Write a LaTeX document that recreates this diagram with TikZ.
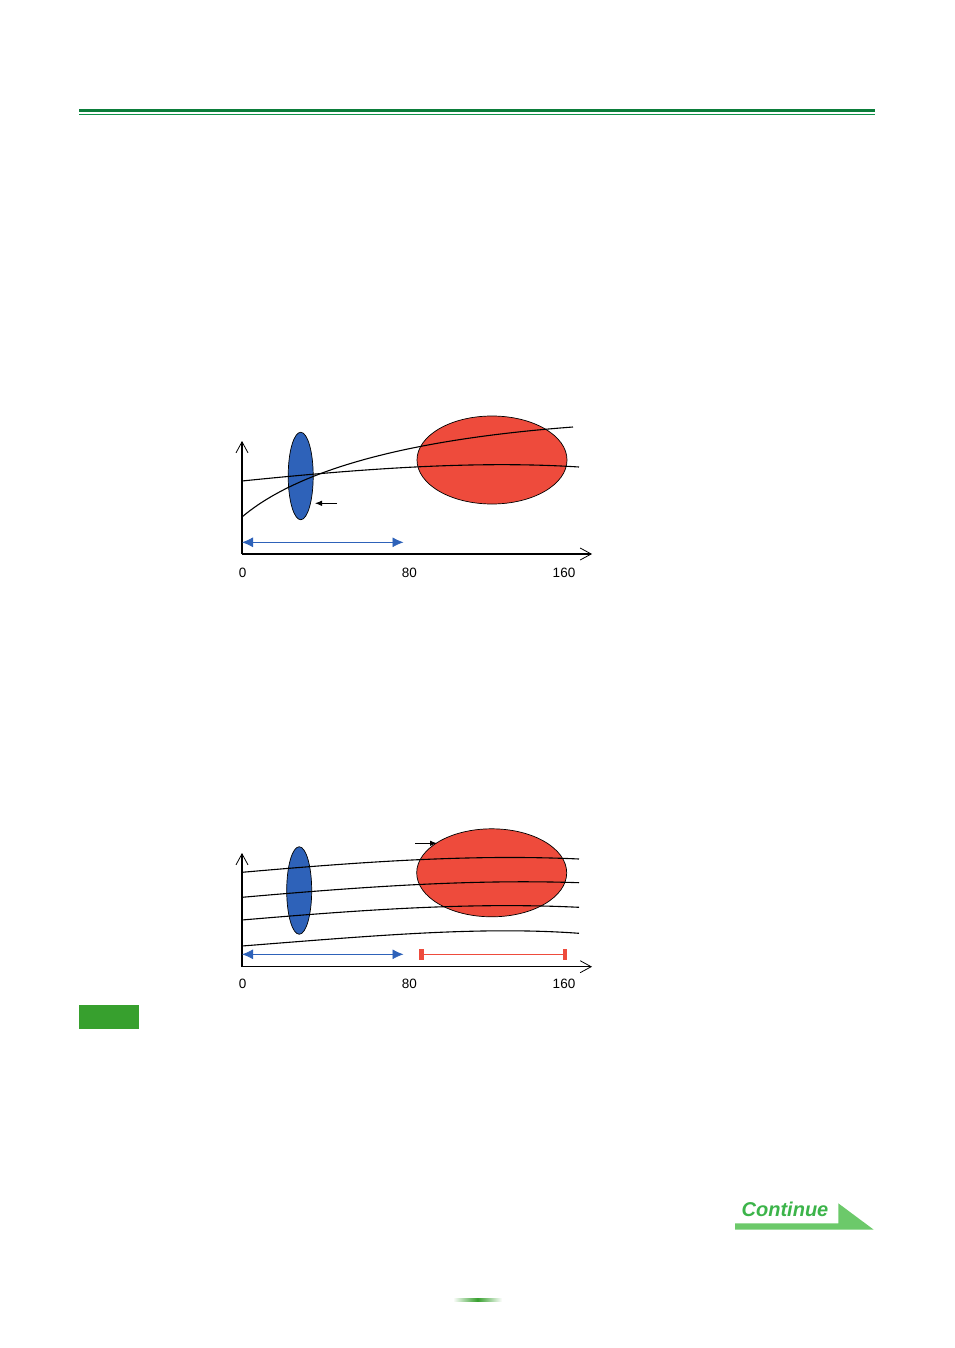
\documentclass[tikz,border=0pt]{standalone}
\usepackage{fontspec}
\setmainfont{Liberation Sans}
\usetikzlibrary{arrows.meta,shapes.geometric,positioning}
\definecolor{rulegreen}{HTML}{0B7D3A}
\definecolor{thingreen}{HTML}{109048}
\definecolor{tabgreen}{HTML}{37A02E}
\definecolor{contgreen}{HTML}{3CB44A}
\definecolor{flaggreen}{HTML}{6CC96A}
\definecolor{lensblue}{HTML}{2E62B9}
\definecolor{blobred}{HTML}{EE4B3C}
\tikzset{
  lens/.style={
      ellipse, draw, fill=lensblue, line width=0.7pt,
      minimum width=25, minimum height=87.5, inner sep=0,
  },
  blob/.style={
      ellipse, draw, fill=blobred, line width=0.7pt,
      minimum width=150, minimum height=88, inner sep=0,
  },
  axis/.style={
    draw, line width=1.2pt, -{Straight Barb[length=11pt,width=12pt,line width=0.8pt]},
  },
  curve/.style={
    draw, line width=1.1pt,
  },
  pointer/.style={
    draw, line width=0.8pt, -{Latex[length=7pt,width=5.5pt]},
  },
  bluespan/.style={
    draw=lensblue, line width=0.8pt,
    {Latex[length=11pt,width=10pt]}-{Latex[length=11pt,width=10pt]},
  },
  redspan/.style={
    draw=blobred, line width=0.8pt,
    {Rectangle[length=4pt,width=10pt]}-{Rectangle[length=4pt,width=10pt]},
  },
  tick/.style={font=\fontsize{13.5}{16}\selectfont},
}

\begin{document}
\begin{tikzpicture}[x=1pt,y=-1pt]
\useasboundingbox (0,0) rectangle (954,1348);

% header rule
\fill[rulegreen] (79,109) rectangle (875,112);
\fill[thingreen] (79,114) rectangle (875,115.2);

% first chart
\coordinate (o1) at (242,554);
\coordinate (ytop1) at (242,441);
\coordinate (xend1) at (592,554);
\node [lens] (lens1) at (300.7,476) {};
\node [blob] (blob1) at (492,460) {};
\draw [curve] (242,481) .. controls (350,470) and (470,460) .. (579,467);
\draw [curve] (242,517) .. controls (295,472) and (400,440) .. (573,427);
\draw [axis] (o1) -- (ytop1);
\draw [axis] (o1) -- (xend1);
\coordinate (p1a) at (337,503.3);
\coordinate (p1b) at (315,503.3);
\draw [pointer] (p1a) -- (p1b);
\coordinate (s1a) at (242,542.3);
\coordinate (s1b) at (403.5,542.3);
\draw [bluespan] (s1a) -- (s1b);
\node [tick] (zero1) at (242.7,572.5) {0};
\node [tick] (eighty1) at (409.3,572.5) {80};
\node [tick] (max1) at (564,572.5) {160};

% second chart
\coordinate (o2) at (242,966.7);
\coordinate (ytop2) at (242,853);
\coordinate (xend2) at (592,966.7);
\node [lens] (lens2) at (299.2,890.5) {};
\node [blob] (blob2) at (491.7,872.8) {};
\draw [curve] (242,872.3) .. controls (360,862) and (470,854) .. (579,859);
\draw [curve] (242,897.3) .. controls (360,887) and (470,879) .. (579,882.7);
\draw [curve] (242,920) .. controls (360,910) and (470,902) .. (579,907.3);
\draw [curve] (242,946) .. controls (370,936) and (480,926) .. (579,933.3);
\draw [axis] (o2) -- (ytop2);
\draw [axis] (o2) -- (xend2);
\coordinate (p2a) at (415,843.3);
\coordinate (p2b) at (437,843.3);
\draw [pointer] (p2a) -- (p2b);
\coordinate (s2a) at (242,954.3);
\coordinate (s2b) at (403.5,954.3);
\draw [bluespan] (s2a) -- (s2b);
\coordinate (r2a) at (419.3,954.3);
\coordinate (r2b) at (566.7,954.3);
\draw [redspan] (r2a) -- (r2b);
\node [tick] (zero2) at (242.7,983.5) {0};
\node [tick] (eighty2) at (409.3,983.5) {80};
\node [tick] (max2) at (564,983.5) {160};

% green tab
\fill[tabgreen] (79,1005) rectangle (139,1029);

% continue flag
\fill[flaggreen] (735,1223.3) -- (838.3,1223.3) -- (838.3,1203.3)
  -- (873.5,1229.5) -- (735,1229.5) -- cycle;
\node [text=contgreen, font=\fontsize{20}{24}\selectfont\bfseries\itshape]
  (cont) at (785,1209.5) {Continue};

% page mark
\shade[left color=white, right color=white, middle color=tabgreen]
  (453,1298.5) rectangle (502,1301.5);
\end{tikzpicture}
\end{document}
